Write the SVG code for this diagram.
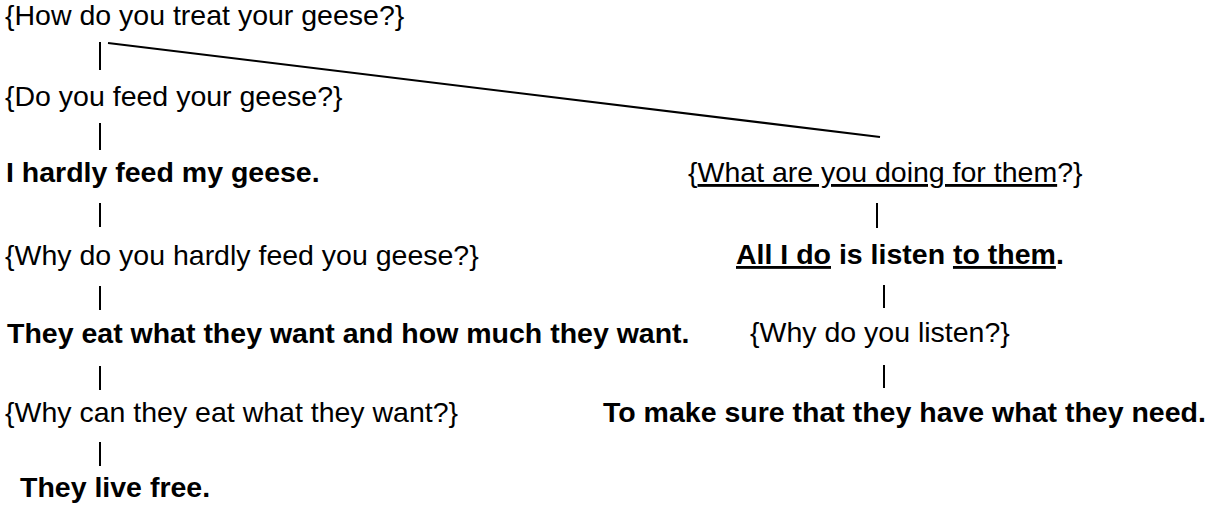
<svg xmlns="http://www.w3.org/2000/svg" width="1218" height="509" viewBox="0 0 1218 509">
<style>
text{font-family:"Liberation Sans",Arial,Helvetica,sans-serif;font-size:28.5px;fill:#000}
.b{font-weight:bold}
.u{text-decoration:underline}
.c{stroke:#000;stroke-width:2;fill:none}
</style>
<rect width="1218" height="509" fill="#fff"/>
<g id="connectors">
<line class="c" x1="100" y1="42" x2="100" y2="70"/>
<line class="c" x1="108" y1="43" x2="880" y2="137"/>
<line class="c" x1="100" y1="123" x2="100" y2="150"/>
<line class="c" x1="100" y1="203" x2="100" y2="227"/>
<line class="c" x1="100" y1="286" x2="100" y2="310"/>
<line class="c" x1="100" y1="366" x2="100" y2="390"/>
<line class="c" x1="100" y1="442" x2="100" y2="466"/>
<line class="c" x1="877" y1="203" x2="877" y2="228"/>
<line class="c" x1="884" y1="285" x2="884" y2="308"/>
<line class="c" x1="884" y1="365" x2="884" y2="388"/>
</g>
<g id="n1"><text x="5" y="25">{How do you treat your geese?}</text></g>
<g id="n2"><text x="5" y="106">{Do you feed your geese?}</text></g>
<g id="n3"><text class="b" x="6" y="182">I hardly feed my geese.</text></g>
<g id="n4"><text x="5" y="265">{Why do you hardly feed you geese?}</text></g>
<g id="n5"><text class="b" x="7" y="343">They eat what they want and how much they want.</text></g>
<g id="n6"><text x="5" y="422">{Why can they eat what they want?}</text></g>
<g id="n7"><text class="b" x="20" y="497">They live free.</text></g>
<g id="n8"><text x="688" y="182">{<tspan class="u">What are you doing for them</tspan>?}</text></g>
<g id="n9"><text class="b" x="736" y="264"><tspan class="u">All I do</tspan> is listen <tspan class="u">to them</tspan>.</text></g>
<g id="n10"><text x="750" y="342">{Why do you listen?}</text></g>
<g id="n11"><text class="b" x="603" y="422">To make sure that they have what they need.</text></g>
</svg>
